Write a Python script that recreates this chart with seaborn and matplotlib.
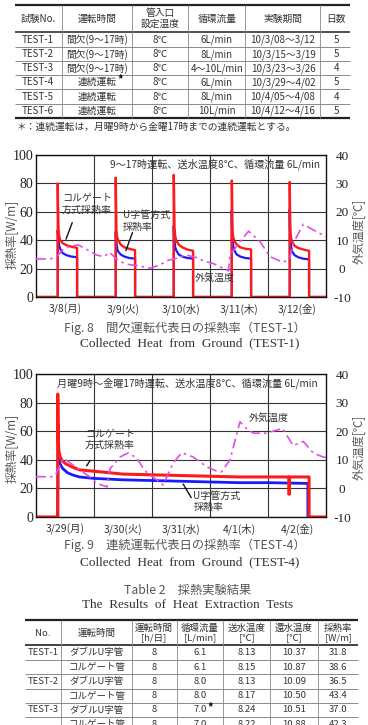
import matplotlib
matplotlib.use("Agg")
import matplotlib.pyplot as plt
import seaborn as sns

JP = ["Noto Sans CJK JP", "DejaVu Sans"]
SERIF = ["Liberation Serif", "DejaVu Serif"]

# ── Table 1: test conditions ──
T1_HEAD = ["試験No.", "運転時間", "管入口\n設定温度", "循環流量", "実験期間", "日数"]
T1_NO = ["TEST-1", "TEST-2", "TEST-3", "TEST-4", "TEST-5", "TEST-6"]
T1_MODE = ["間欠(9〜17時)", "間欠(9〜17時)", "間欠(9〜17時)", "連続運転", "連続運転", "連続運転"]
T1_TEMP = ["8℃", "8℃", "8℃", "8℃", "8℃", "8℃"]
T1_FLOW = ["6L/min", "8L/min", "4〜10L/min", "6L/min", "8L/min", "10L/min"]
T1_PERIOD = ["10/3/08〜3/12", "10/3/15〜3/19", "10/3/23〜3/26",
             "10/3/29〜4/02", "10/4/05〜4/08", "10/4/12〜4/16"]
T1_DAYS = ["5", "5", "4", "5", "4", "5"]
T1_NOTE = "＊：連続運転は，月曜9時から金曜17時までの連続運転とする。"

# ── Fig. 8: intermittent operation (hours from 3/8 0:00) ──
DAYS1 = ["3/8(月)", "3/9(火)", "3/10(水)", "3/11(木)", "3/12(金)"]
OP_HOURS = [9, 9, 9.1, 9.3, 9.6, 10, 11, 12.5, 14.5, 17, 17]
RED1 = [
    [0, 80, 65, 48, 43, 40, 38, 36.5, 35.5, 34.5, 0],
    [0, 84, 69, 46, 42, 40, 37, 35, 34, 33, 0],
    [0, 86, 77, 50, 43, 40, 37, 35, 33.5, 32.5, 0],
    [0, 82, 78, 46, 42, 40, 37, 35, 34, 33.5, 0],
    [0, 81, 62, 45, 41, 39, 36, 34.5, 33.5, 32.5, 0],
]
BLUE1 = [
    [0, 47, 44, 40, 36, 34, 31, 29.5, 28.5, 28, 0],
    [0, 46, 42, 38, 34, 32, 30, 28.5, 27.5, 27, 0],
    [0, 50, 44, 40, 35, 33, 30, 28.5, 27.5, 27, 0],
    [0, 61, 50, 42, 36, 33, 30, 28.5, 27.5, 27, 0],
    [0, 62, 48, 40, 35, 32, 29.5, 28, 27, 26.5, 0],
]
TEMP1_H = [0, 6, 8.5, 11, 14, 17.5, 21.5, 25, 28, 30.5, 33, 35, 38, 43, 47, 51,
           55, 58, 62, 66, 70, 73, 77.5, 79.6, 80.3, 84, 88, 92.7, 96.8, 102.3,
           105, 106.5, 110.6, 114.8, 120]
TEMP1_T = [3.4, 3.4, 4.2, 6.5, 8.0, 8.3, 6.5, 4.8, 4.2, 5.7, 3.6, 2.4, 1.5, 0.9,
           0.1, 1.2, 3.0, 3.6, 4.8, 4.0, 2.5, 1.9, 0.1, -0.8, 4.8, 9.0, 13.2, 9.5,
           4.2, 2.2, 3.6, 9.0, 15.6, 13.6, 11.2]

# ── Fig. 9: continuous operation (hours from 3/29 0:00) ──
DAYS2 = ["3/29(月)", "3/30(火)", "3/31(水)", "4/1(木)", "4/2(金)"]
RED2_H = [0, 9, 9, 9.2, 9.5, 10, 11, 12.5, 15, 18, 24, 30, 36, 48, 60, 72, 84,
          96, 104.6, 104.6, 104.9, 104.9, 113, 113, 120]
RED2_V = [0, 0, 86, 55, 46, 42, 39, 37, 35, 33, 32, 31, 30, 29.5, 29, 28.5, 28,
          28, 28, 16, 16, 28, 28, 0, 0]
BLUE2_H = [9, 9, 9.1, 9.1, 9.4, 10, 11, 13, 15, 18, 24, 36, 48, 60, 72, 84, 96,
           112.5, 112.5]
BLUE2_V = [0, 20, 20, 65, 40, 37, 34, 31, 29.5, 28, 27, 26, 25.5, 25, 24.5, 24,
           24, 23.5, 0]
TEMP2_H = [0, 6.5, 8, 11.3, 14, 18.2, 22.3, 25, 29.4, 30.6, 34.8, 38.2, 41.7,
           44.4, 46, 50, 52.6, 56.8, 60.3, 65, 70.6, 75.4, 76.8, 80.3, 84.4, 87,
           90, 95.4, 102, 106.4, 110.6, 114.8, 118.8, 120]
TEMP2_T = [4.1, 4.1, 4.5, 10.6, 9.0, 6.4, 4.0, 1.9, 0.5, 6.8, 11.0, 12.4, 10.6,
           7.0, 5.4, 3.0, 1.2, 8.9, 12.5, 11.0, 7.6, 5.8, 5.8, 10.0, 23.3, 21.0,
           19.3, 19.3, 21.0, 15.0, 16.4, 12.3, 11.0, 10.8]

# ── Table 2: results ──
T2_HEAD = ["No.", "運転時間", "運転時間\n[h/日]", "循環流量\n[L/min]",
           "送水温度\n[℃]", "還水温度\n[℃]", "採熱率\n[W/m]"]
T2_NO = ["TEST-1", "", "TEST-2", "", "TEST-3", ""]
T2_PIPE = ["ダブルU字管", "コルゲート管", "ダブルU字管", "コルゲート管",
           "ダブルU字管", "コルゲート管"]
T2_HOURS = ["8", "8", "8", "8", "8", "8"]
T2_FLOW = ["6.1", "6.1", "8.0", "8.0", "7.0", "7.0"]
T2_SUPPLY = ["8.13", "8.15", "8.13", "8.17", "8.24", "8.22"]
T2_RETURN = ["10.37", "10.87", "10.09", "10.50", "10.51", "10.88"]
T2_RATE = ["31.8", "38.6", "36.5", "43.4", "37.0", "42.3"]

RED = "#ff1a1a"
BLUE = "#1a1aff"
MAG = "#e24ee2"
INK = "#333333"


def build_days(op_hours, day_vals):
    hours, vals = [0], [0]
    for d, v in enumerate(day_vals):
        hours += [d * 24 + h for h in op_hours]
        vals += v
    return hours + [120], vals + [0]


def line(ax, x, y, color, lw, ls="-"):
    sns.lineplot(x=x, y=y, ax=ax, color=color, linewidth=lw, linestyle=ls,
                 estimator=None, sort=False, legend=False)


def setup_chart(ax, days, ylab_y, ylab2_y):
    ax.set_xlim(0, 120)
    ax.set_ylim(0, 100)
    ax.set_xticks([12, 36, 60, 84, 108])
    ax.set_xticklabels(days, fontsize=7.5, family=JP, color=INK)
    ax.set_xticks([24, 48, 72, 96], minor=True)
    ax.set_yticks([0, 20, 40, 60, 80, 100])
    ax.set_yticklabels([0, 20, 40, 60, 80, 100], fontsize=10, family=SERIF, color="#222")
    ax.tick_params(axis="both", which="both", length=0)
    ax.tick_params(axis="x", pad=5)
    ax.tick_params(axis="y", pad=2)
    ax.grid(axis="y", which="major", color="#333", lw=0.8)
    ax.grid(axis="x", which="minor", color="#333", lw=0.8)
    ax.grid(axis="x", which="major", visible=False)
    for s in ax.spines.values():
        s.set_color("#111")
        s.set_linewidth(1.0)
    ax.set_xlabel("")
    ax.set_ylabel("採熱率[W/m]", fontsize=8.5, color="#555", family=JP, va="center")
    ax.yaxis.set_label_coords(-0.083, ylab_y)

    ax2 = ax.twinx()
    ax2.set_ylim(-10, 40)
    ax2.set_yticks([-10, 0, 10, 20, 30, 40])
    ax2.set_yticklabels([-10, 0, 10, 20, 30, 40], fontsize=9.5, family=SERIF, color="#222")
    ax2.tick_params(axis="y", length=0, pad=11.5)
    for lbl in ax2.get_yticklabels():
        lbl.set_horizontalalignment("center")
    for s in ax2.spines.values():
        s.set_visible(False)
    ax2.set_ylabel("外気温度[℃]", fontsize=8.3, color="#555", family=JP, va="center")
    ax2.yaxis.set_label_coords(1.115, ylab2_y)
    return ax2


sns.set_style("white")
plt.rcParams["font.family"] = JP
plt.rcParams["axes.unicode_minus"] = True

fig = plt.figure(figsize=(3.68, 7.25), dpi=100)

# page overlay in pixel coordinates for tables and captions
ax0 = fig.add_axes([0, 0, 1, 1])
ax0.set_xlim(0, 368)
ax0.set_ylim(725, 0)
ax0.axis("off")

# ── Table 1 ──
c1 = [15, 62, 132, 188, 245, 320, 350]
x1 = [38, 97, 160, 217, 283, 336]
ax0.hlines([5, 118.3], 15, 350, color="#222", lw=1.6)
ax0.hlines(32.3, 15, 350, color="#222", lw=1.1)
ax0.hlines([46.7, 61, 75.3, 89.3, 103.7], 15, 350, color="#777", lw=0.6)
ax0.vlines(c1[1:-1], 5, 118.3, color="#888", lw=0.6)
for x, h in zip(x1, T1_HEAD):
    ax0.text(x, 18.5, h, ha="center", va="center", fontsize=7, color=INK,
             linespacing=1.15)
row_y1 = [40, 54.3, 68.3, 82.3, 96.7, 111]
for i, y in enumerate(row_y1):
    cells = [T1_NO[i], T1_MODE[i], T1_TEMP[i], T1_FLOW[i], T1_PERIOD[i], T1_DAYS[i]]
    for x, t in zip(x1, cells):
        ax0.text(x, y, t, ha="center", va="center", fontsize=7, color=INK)
ax0.text(120, 79.5, "*", ha="center", va="center", fontsize=8, color="#111",
         fontweight="bold")
ax0.text(17, 127, T1_NOTE, ha="left", va="center", fontsize=7, color=INK)

# ── Fig. 8 ──
ax1 = fig.add_axes([36 / 368, 428 / 725, 290 / 368, 142 / 725])
h1, r1 = build_days(OP_HOURS, RED1)
_, b1 = build_days(OP_HOURS, BLUE1)
line(ax1, h1, b1, BLUE, 1.6)
line(ax1, h1, r1, RED, 1.7)
ax1t = setup_chart(ax1, DAYS1, 0.44, 0.46)
line(ax1t, TEMP1_H, TEMP1_T, MAG, 1.2, (0, (6, 2.5, 1.5, 2.5)))

ax1.text(0.255, 0.937, "9〜17時運転、送水温度8℃、循環流量 6L/min",
         transform=ax1.transAxes, ha="left", va="center", fontsize=7.3, color=INK)
ax1.text(10.8, 70.4, "コルゲート", ha="left", va="center", fontsize=7.2, color=INK)
ax1.text(10.8, 61.3, "方式採熱率", ha="left", va="center", fontsize=7.2, color=INK)
ax1.annotate("", xy=(12.0, 38.9), xytext=(15.4, 54.2),
             arrowprops=dict(arrowstyle="-", color="#111", lw=1.0))
ax1.text(36.0, 57.7, "U字管方式", ha="left", va="center", fontsize=7.2, color=INK)
ax1.text(36.0, 49.3, "採熱率", ha="left", va="center", fontsize=7.2, color=INK)
ax1.annotate("", xy=(36.8, 30.8), xytext=(40.3, 47.2),
             arrowprops=dict(arrowstyle="-", color="#111", lw=1.0))
ax1.text(73.9, 13.4, "外気温度", ha="center", va="center", fontsize=7.2, color=INK)

ax0.text(185, 328, "Fig. 8　間欠運転代表日の採熱率（TEST-1）", ha="center",
         va="center", fontsize=8.8, color="#555")
ax0.text(190, 343, "Collected  Heat  from  Ground  (TEST-1)", ha="center",
         va="center", fontsize=9.5, family=SERIF, color=INK)

# ── Fig. 9 ──
ax2 = fig.add_axes([36 / 368, 208 / 725, 290 / 368, 143 / 725])
line(ax2, BLUE2_H, BLUE2_V, BLUE, 2.0)
line(ax2, RED2_H, RED2_V, RED, 2.2)
ax2t = setup_chart(ax2, DAYS2, 0.48, 0.49)
line(ax2t, TEMP2_H, TEMP2_T, MAG, 1.2, (0, (6, 2.5, 1.5, 2.5)))

ax2.text(0.072, 0.937, "月曜9時〜金曜17時運転、送水温度8℃、循環流量 6L/min",
         transform=ax2.transAxes, ha="left", va="center", fontsize=7.3, color=INK)
ax2.text(20.3, 58.7, "コルゲート", ha="left", va="center", fontsize=7.2, color=INK)
ax2.text(20.3, 50.3, "方式採熱率", ha="left", va="center", fontsize=7.2, color=INK)
ax2.annotate("", xy=(20.3, 34.1), xytext=(23.0, 41.0),
             arrowprops=dict(arrowstyle="-", color="#111", lw=1.0))
ax2.text(65.1, 14.7, "U字管方式", ha="left", va="center", fontsize=7.2, color=INK)
ax2.text(65.1, 7.0, "採熱率", ha="left", va="center", fontsize=7.2, color=INK)
ax2.annotate("", xy=(64.8, 11.9), xytext=(60.3, 24.7),
             arrowprops=dict(arrowstyle="-", color="#111", lw=1.0))
ax2.text(96.4, 69.4, "外気温度", ha="center", va="center", fontsize=7.2, color=INK)

ax0.text(185, 545, "Fig. 9　連続運転代表日の採熱率（TEST-4）", ha="center",
         va="center", fontsize=8.8, color="#555")
ax0.text(190, 562, "Collected  Heat  from  Ground  (TEST-4)", ha="center",
         va="center", fontsize=9.5, family=SERIF, color=INK)

# ── Table 2 ──
ax0.text(188, 590, "Table 2　採熱実験結果", ha="center", va="center",
         fontsize=8.8, color="#555")
ax0.text(188, 605, "The  Results  of  Heat  Extraction  Tests", ha="center",
         va="center", fontsize=9.5, family=SERIF, color=INK)
c2 = [25, 61, 131.5, 176.7, 223.3, 270, 318.3, 358]
x2 = [43, 96.5, 154, 200, 246.7, 294, 338]
ax0.hlines(620, 25, 358, color="#222", lw=1.6)
ax0.hlines(645, 25, 358, color="#222", lw=1.2)
ax0.hlines([660, 674.3, 688.7, 702.7, 717.3], 25, 358, color="#777", lw=0.6)
ax0.vlines(c2[1:-1], 620, 725, color="#888", lw=0.6)
for x, h in zip(x2, T2_HEAD):
    ax0.text(x, 633, h, ha="center", va="center", fontsize=6.8, color=INK,
             linespacing=1.15)
row_y2 = [652.7, 667.3, 681.7, 696, 710, 724.5]
for i, y in enumerate(row_y2):
    cells = [T2_NO[i], T2_PIPE[i], T2_HOURS[i], T2_FLOW[i], T2_SUPPLY[i],
             T2_RETURN[i], T2_RATE[i]]
    for x, t in zip(x2, cells):
        ax0.text(x, y, t, ha="center", va="center", fontsize=6.8, color=INK)
ax0.text(210, 707.5, "*", ha="center", va="center", fontsize=8, color="#111",
         fontweight="bold")

fig.savefig("out.png", dpi=100)
